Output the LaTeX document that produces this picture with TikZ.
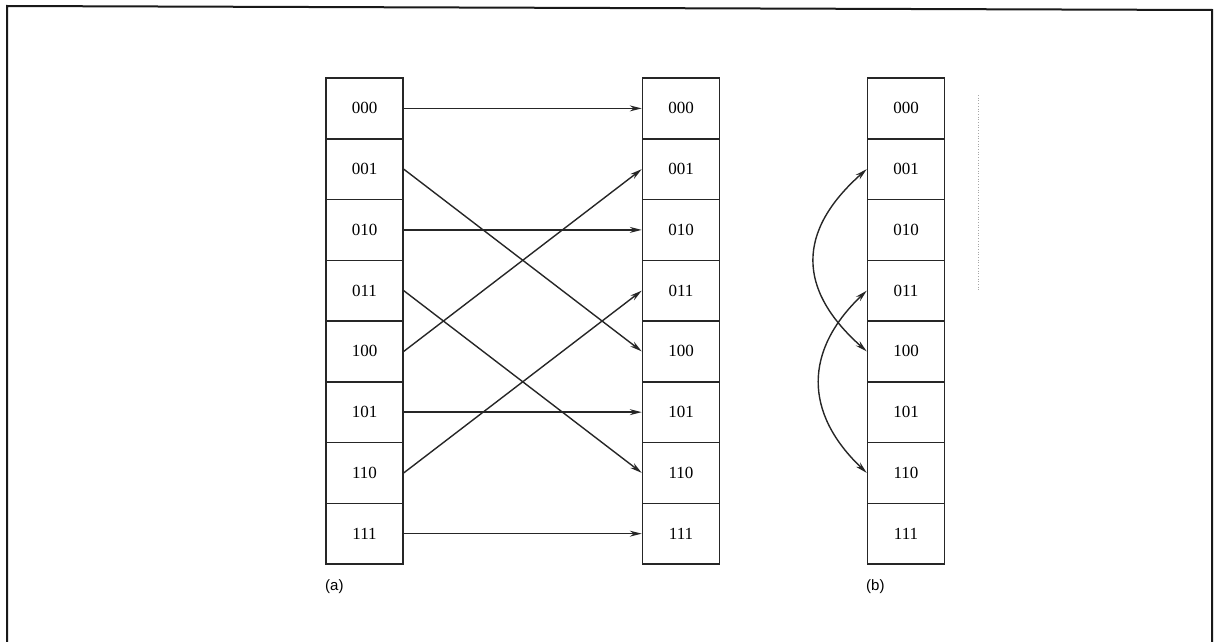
\documentclass[tikz,border=0pt]{standalone}
\usepackage{fontspec}
\setmainfont{Liberation Serif}
\newfontfamily\lblfont{Liberation Sans}
\usetikzlibrary{arrows.meta,calc}
\begin{document}
\begin{tikzpicture}[x=1pt,y=-1pt,
  cell/.style={draw=black!85, line width=1.5pt, minimum width=77pt, minimum height=60.75pt, inner sep=0pt, font=\fontsize{17}{19}\selectfont},
  arr/.style={draw=black!85, line width=1.4pt, -{Stealth[length=12pt,width=6pt]}},
  darr/.style={draw=black!85, line width=1.4pt, {Stealth[length=12pt,width=6pt]}-{Stealth[length=12pt,width=6pt]}},
  panellabel/.style={inner sep=0pt, font=\lblfont\fontsize{15}{17}\selectfont},
  frame/.style={draw=black!90, line width=2pt}
]
\useasboundingbox (0,0) rectangle (1215,642);
% frame (open at the bottom)
\draw[frame] (7,642) -- (7,6) -- (1212,10) -- (1212,642);
% columns
\foreach \i/\t in {0/000,1/001,2/010,3/011,4/100,5/101,6/110,7/111}{
  \node[cell] (a\i) at (364.5,{108.4+60.75*\i}) {\t};
  \node[cell] (m\i) at (681,{108.4+60.75*\i}) {\t};
  \node[cell] (r\i) at (906,{108.4+60.75*\i}) {\t};
}
% (a) permutation arrows
\foreach \s/\d in {0/0,1/4,2/2,3/6,4/1,5/5,6/3,7/7}{
  \draw[arr] (a\s.east) -- (m\d.west);
}
% (b) exchange arcs
\draw[darr] (r1.west) .. controls ($(r1.west)+(-70,62)$) and ($(r4.west)+(-70,-62)$) .. (r4.west);
\draw[darr] (r3.west) .. controls ($(r3.west)+(-63,60)$) and ($(r6.west)+(-63,-60)$) .. (r6.west);
% labels
\node[panellabel, anchor=west] (la) at (325,587) {(a)};
\node[panellabel, anchor=west] (lb) at (866,587) {(b)};
% faint dotted scan mark
\draw[black!35, dotted, line width=0.7pt] (978,95) -- (978,290);
\end{tikzpicture}
\end{document}
